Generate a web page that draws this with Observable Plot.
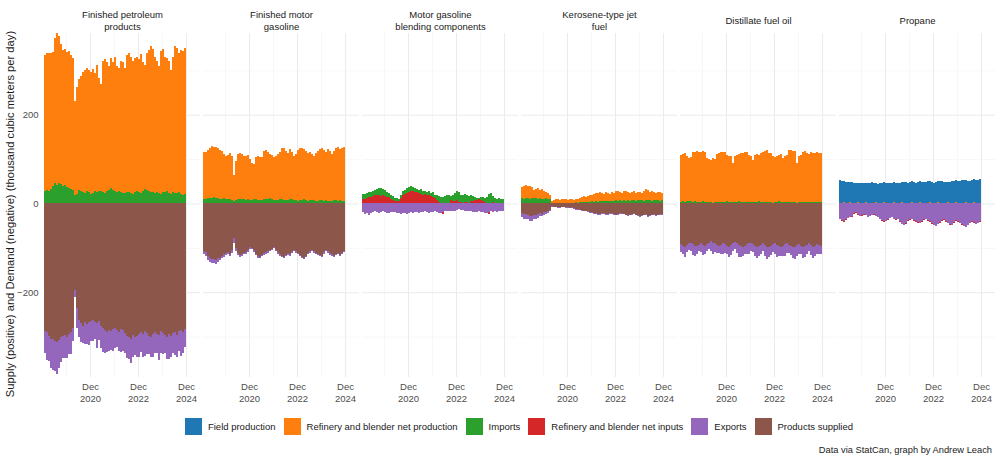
<!DOCTYPE html>
<html><head><meta charset="utf-8">
<script src="https://cdn.jsdelivr.net/npm/d3@7"></script>
<script src="https://cdn.jsdelivr.net/npm/@observablehq/plot@0.6"></script>
<style>
body{margin:0;background:#fff;font-family:"Liberation Sans",Arial,sans-serif;}
#wrap{width:1000px;height:462px;position:relative;overflow:hidden}
#legend{position:absolute;top:418px;left:43px;right:5px;display:flex;justify-content:center;align-items:center;font-size:9.5px;color:#1a1a1a;white-space:nowrap}
.item{display:flex;align-items:center;margin:0 4px}
.sw{width:17px;height:17px;margin-right:6px}
#caption{position:absolute;right:8px;top:445px;font-size:9.3px;color:#1a1a1a}
#ytitle{position:absolute;left:10px;top:214px;transform:translate(-50%,-50%) rotate(-90deg);font-size:11.2px;color:#1a1a1a;white-space:nowrap}
</style></head>
<body><div id="wrap"><div id="chart"></div><div id="ytitle">Supply (positive) and Demand (negative) (thousand cubic meters per day)</div><div id="legend"></div><div id="caption">Data via StatCan, graph by Andrew Leach</div></div>
<script>
const products = ["Finished petroleum products","Finished motor gasoline","Motor gasoline blending components","Kerosene-type jet fuel","Distillate fuel oil","Propane"];
const stripLabels = ["Finished petroleum\nproducts","Finished motor\ngasoline","Motor gasoline\nblending components","Kerosene-type jet\nfuel","Distillate fuel oil","Propane"];
const seriesNames = ["Field production","Refinery and blender net production","Imports","Refinery and blender net inputs","Exports","Products supplied"];
const seriesColors = ["#1f77b4","#ff7f0e","#2ca02c","#d62728","#9467bd","#8c564b"];
const yTicks = [-200, 0, 200];
const yMinor = [-300, -100, 100, 300];
const xTickYears = [2020, 2022, 2024];
const xMinorYears = [2019, 2021, 2023];

// Finished petroleum products
const fpp_refprod = [307,308,313,305,302,327,341,332,316,306,306,306,309,303,298,210,240,250,260,271,276,278,275,275,279,267,286,254,241,297,302,291,280,294,288,302,285,278,296,294,282,310,314,306,300,303,303,299,312,290,280,310,317,329,323,307,294,286,321,322,305,301,298,278,305,332,326,314,323,324,329];
const fpp_imports = [28,30,27,33,40,45,42,46,44,40,42,36,35,32,30,20,22,30,28,26,24,27,25,22,24,28,26,29,27,25,24,27,30,34,30,28,25,27,26,24,23,25,26,24,22,25,27,26,24,28,32,30,28,26,25,23,26,24,22,26,25,27,24,22,25,23,24,26,22,20,21];
const fpp_supplied = [287,290,298,305,306,310,312,308,302,298,296,300,294,290,280,195,235,262,270,275,268,272,266,264,262,268,270,265,276,280,286,290,284,288,283,280,286,290,282,285,292,298,302,305,296,300,298,293,290,295,288,292,298,300,295,290,293,297,288,292,296,300,295,298,292,290,296,288,285,290,282];
const fpp_exports = [49,62,58,65,70,68,72,62,55,50,52,48,45,50,30,15,45,38,42,40,48,45,52,45,48,38,55,42,50,55,52,45,48,42,50,45,38,42,52,48,45,50,48,55,50,42,48,52,45,50,55,48,42,45,52,48,45,55,50,48,42,50,55,48,45,52,50,45,58,48,42];
// Finished motor gasoline
const fmg_refprod = [108,104,108,113,117,114,114,112,110,108,100,95,100,105,100,59,88,103,103,102,99,98,101,93,84,78,95,100,97,97,109,110,105,100,100,96,101,104,106,114,118,111,106,113,106,98,105,114,117,118,113,111,108,109,104,101,108,113,115,118,114,109,116,113,106,111,116,122,115,120,123];
const fmg_imports = [9,11,12,13,12,14,13,12,11,10,12,11,10,9,8,6,7,9,11,10,9,8,9,7,8,10,9,8,7,8,9,10,11,12,10,8,7,8,9,10,8,7,8,9,10,8,7,6,7,8,9,7,6,7,8,7,6,5,7,8,6,7,6,5,6,7,8,6,7,6,5];
const fmg_supplied = [108,110,118,122,126,125,128,124,122,118,115,112,110,114,106,78,100,112,116,114,112,110,104,98,100,106,114,118,120,116,112,110,108,104,102,98,104,110,114,118,120,116,112,115,110,104,108,112,116,120,122,118,112,108,104,108,112,114,116,118,110,106,108,112,115,118,114,112,116,112,108];
const fmg_exports = [6,8,10,9,8,10,8,7,6,5,6,5,4,5,6,12,8,5,4,4,3,4,5,4,3,4,3,4,3,3,4,3,4,3,2,3,4,3,4,3,2,3,4,3,2,3,3,2,3,4,3,3,2,3,4,3,2,3,3,2,3,2,3,4,3,2,3,2,3,3,2];
// Motor gasoline blending components
const mgb_inputs = [10,11,12,14,15,17,18,20,19,17,18,16,15,14,10,8,5,6,5,12,18,22,24,26,28,27,25,26,24,22,20,21,19,18,16,14,12,8,4,2,-4,1,0,2,8,6,5,7,4,3,2,3,4,2,5,6,7,8,9,8,5,3,2,-3,2,3,1,0,1,0,1];
const mgb_imports = [11,11,12,11,11,11,12,12,15,18,15,14,11,10,10,8,7,6,6,8,10,9,11,12,11,10,9,6,6,10,8,6,7,10,8,11,8,10,12,13,14,15,18,18,9,13,19,20,21,17,16,18,15,15,13,10,7,4,4,6,10,9,13,22,22,13,11,11,11,10,10];
const mgb_exports = [20,24,22,25,21,19,18,20,21,19,18,20,21,22,20,19,20,21,22,23,22,21,23,22,20,21,19,20,21,20,19,18,20,21,19,20,18,19,21,22,20,18,17,16,17,18,16,14,13,14,15,16,17,16,18,19,20,19,18,19,20,21,22,20,18,19,18,19,18,17,18];
// Kerosene-type jet fuel
const jet_refprod = [26,29,28,27,29,24,18,21,23,18,22,17,14,14,11,4,7,7,9,6,8,8,7,7,7,8,6,6,9,9,11,12,12,13,14,15,18,19,19,20,19,16,21,18,17,19,18,20,22,19,18,22,21,18,18,18,21,18,18,18,17,21,26,22,19,21,18,16,19,19,17];
const jet_imports = [12,11,13,12,11,12,13,12,11,12,10,11,12,10,9,2,1,2,1,2,1,2,2,1,2,2,2,3,2,3,3,4,3,4,4,5,4,5,4,5,5,6,5,6,5,6,6,7,6,7,6,7,6,7,6,8,7,6,7,8,7,6,7,8,7,6,7,8,7,6,7];
const jet_supplied = [22,24,23,26,28,29,27,26,24,22,23,20,19,18,15,6,7,8,9,8,7,8,9,8,10,9,11,12,13,14,15,17,16,18,20,19,21,22,24,23,21,22,24,23,22,21,23,25,24,22,21,23,25,27,26,24,22,25,27,28,26,25,24,28,27,25,24,26,25,23,24];
const jet_exports = [9,10,11,10,12,11,9,10,8,7,6,5,4,3,3,2,1,1,1,2,1,1,1,2,1,2,1,2,2,1,2,1,2,2,1,2,2,1,2,2,2,1,2,2,1,2,2,2,1,2,2,1,2,2,1,2,2,2,1,2,2,1,2,2,2,1,2,2,1,2,2];
// Distillate fuel oil
const dfo_refprod = [106,107,109,103,97,99,111,112,114,114,112,113,111,99,96,95,101,98,108,111,112,114,111,105,104,103,88,105,106,107,110,110,111,113,106,103,94,107,108,105,110,114,115,118,110,110,104,101,104,105,108,99,102,107,116,118,115,115,90,105,106,113,114,111,108,113,110,110,111,111,109];
const dfo_imports = [4,5,4,5,6,5,4,5,4,3,4,5,4,3,4,3,2,3,4,3,4,3,4,5,4,3,4,3,4,5,4,3,4,3,4,3,4,3,4,5,4,3,4,3,4,3,2,3,4,5,4,3,4,3,4,3,4,3,2,3,4,3,4,3,4,3,4,3,4,3,4];
const dfo_supplied = [92,95,98,94,90,88,92,96,95,93,90,94,96,92,88,85,88,90,94,96,93,90,92,95,97,94,90,86,90,94,96,98,95,92,90,88,92,95,97,96,93,90,94,97,99,96,92,90,93,96,98,95,92,89,93,96,98,97,94,91,95,98,96,93,90,94,97,95,92,94,96];
const dfo_exports = [18,20,22,16,14,20,24,22,18,15,20,22,18,16,14,22,25,20,18,15,22,25,20,18,24,22,18,16,22,26,24,20,18,22,25,20,18,24,26,22,20,18,24,28,22,20,18,25,27,22,20,24,26,22,18,20,25,28,24,22,20,26,24,20,18,22,26,24,22,20,18];
// Propane
const pro_field = [50,49,48,47,46,45,46,45,44,43,44,45,44,43,44,45,46,44,43,42,43,44,45,44,43,44,45,46,45,44,43,45,47,46,45,46,47,46,45,47,48,47,46,47,48,47,46,45,47,48,49,48,47,46,45,47,48,49,50,49,48,50,51,50,49,48,50,52,51,50,53];
const pro_refprod = [2,2,3,2,2,3,2,2,2,3,2,2,2,3,2,2,2,2,3,2,2,2,3,2,2,2,2,3,2,2,2,3,2,2,2,2,3,2,2,2,3,2,2,2,2,3,2,2,2,3,2,2,2,2,3,2,2,2,3,2,2,2,2,3,2,2,2,3,2,2,2];
const pro_inputs = [-1,-1,-2,-1,-1,-1,-2,-1,-1,-1,-1,-2,-1,-1,-1,-1,-1,-2,-1,-1,-1,-1,-2,-1,-1,-1,-1,-1,-2,-1,-1,-1,-1,-2,-1,-1,-1,-1,-1,-2,-1,-1,-1,-1,-2,-1,-1,-1,-1,-1,-2,-1,-1,-1,-1,-2,-1,-1,-1,-1,-1,-2,-1,-1,-1,-1,-2,-1,-1,-1,-1];
const pro_exports = [35,38,40,36,32,30,28,22,20,24,28,26,24,26,30,28,26,24,28,30,34,38,40,39,36,32,30,34,36,35,40,46,48,44,38,36,34,38,40,42,44,40,36,34,38,40,45,48,50,46,42,38,36,40,44,46,48,42,38,40,44,46,50,52,48,44,40,42,46,44,40];

const months = d3.utcMonth.range(new Date(Date.UTC(2019,0,1)), new Date(Date.UTC(2024,11,1)));
const rows = [];
// supply arrays are positive; demand arrays hold magnitudes and are drawn below zero
function add(product, series, values, sign){ values.forEach((v,i)=>rows.push({product, series, date: months[i], value: sign*v})); }
add(products[0], seriesNames[1], fpp_refprod, 1);
add(products[0], seriesNames[2], fpp_imports, 1);
add(products[0], seriesNames[5], fpp_supplied, -1);
add(products[0], seriesNames[4], fpp_exports, -1);
add(products[1], seriesNames[1], fmg_refprod, 1);
add(products[1], seriesNames[2], fmg_imports, 1);
add(products[1], seriesNames[5], fmg_supplied, -1);
add(products[1], seriesNames[4], fmg_exports, -1);
add(products[2], seriesNames[3], mgb_inputs, 1);
add(products[2], seriesNames[2], mgb_imports, 1);
add(products[2], seriesNames[4], mgb_exports, -1);
add(products[3], seriesNames[1], jet_refprod, 1);
add(products[3], seriesNames[2], jet_imports, 1);
add(products[3], seriesNames[5], jet_supplied, -1);
add(products[3], seriesNames[4], jet_exports, -1);
add(products[4], seriesNames[1], dfo_refprod, 1);
add(products[4], seriesNames[2], dfo_imports, 1);
add(products[4], seriesNames[5], dfo_supplied, -1);
add(products[4], seriesNames[4], dfo_exports, -1);
add(products[5], seriesNames[0], pro_field, 1);
add(products[5], seriesNames[1], pro_refprod, 1);
add(products[5], seriesNames[3], pro_inputs, 1);
add(products[5], seriesNames[4], pro_exports, -1);

const stackOrder = seriesNames.slice().reverse();
const decDate = y => new Date(Date.UTC(y, 11, 1));
const majorX = xTickYears.map(decDate);
const minorX = xMinorYears.map(decDate);

const chart = Plot.plot({
  width: 1000, height: 410,
  marginTop: 33, marginBottom: 33, marginLeft: 43, marginRight: 5,
  style: {fontFamily: "Liberation Sans, Arial, sans-serif", fontSize: "9.5px", color: "#4d4d4d", background: "#fff"},
  fx: {domain: products, paddingInner: 0.02, paddingOuter: 0, axis: null, label: null},
  x: {type: "utc", domain: [new Date(Date.UTC(2019,0,1)), new Date(Date.UTC(2025,6,1))]},
  y: {domain: [-391, 384]},
  color: {domain: seriesNames, range: seriesColors},
  marks: [
    Plot.gridY(yMinor, {stroke: "#f3f3f3", strokeOpacity: 1, strokeWidth: 0.7}),
    Plot.gridX(minorX, {stroke: "#f3f3f3", strokeOpacity: 1, strokeWidth: 0.7}),
    Plot.gridY(yTicks, {stroke: "#ebebeb", strokeOpacity: 1, strokeWidth: 1}),
    Plot.gridX(majorX, {stroke: "#ebebeb", strokeOpacity: 1, strokeWidth: 1}),
    Plot.rectY(rows, {x: "date", interval: d3.utcMonth, y: "value", fill: "series", fx: "product", order: stackOrder, inset: 0, shapeRendering: "crispEdges"}),
    Plot.axisX(majorX, {tickSize: 0, tickPadding: 3, tickFormat: d => "Dec\n" + d.getUTCFullYear(), label: null, fill: "#4d4d4d", lineHeight: 1.35, fontSize: 9.5}),
    Plot.axisY(yTicks, {tickSize: 0, tickPadding: 6, label: null, fill: "#4d4d4d", fontSize: 9.5}),
    Plot.text(products, {fx: d => d, text: (d, i) => stripLabels[i], frameAnchor: "top", dy: -13, lineAnchor: "middle", fill: "#1a1a1a", fontSize: 9.5, lineHeight: 1.2})
  ]
});
document.getElementById("chart").appendChild(chart);

const legend = document.getElementById("legend");
seriesNames.forEach((s, i) => {
  const it = document.createElement("div"); it.className = "item";
  const sw = document.createElement("div"); sw.className = "sw"; sw.style.background = seriesColors[i];
  const tx = document.createElement("span"); tx.textContent = s;
  it.appendChild(sw); it.appendChild(tx); legend.appendChild(it);
});
</script>
</body></html>
